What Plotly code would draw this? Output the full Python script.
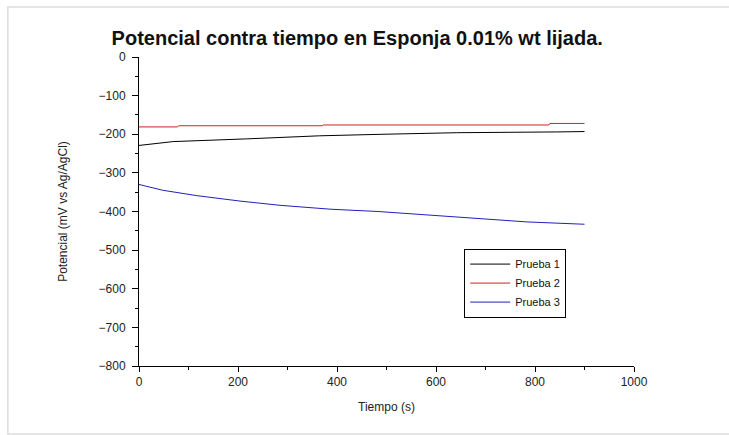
import plotly.graph_objects as go

t1 = [0, 69, 217, 365, 493, 642, 844, 900]
p1 = [-229, -219, -212, -204, -200, -196, -194, -193]

t2 = [0, 78, 80, 370, 372, 828, 830, 900]
p2 = [-181, -181, -178, -178, -176, -176, -172, -172]

t3 = [0, 48, 117, 204, 285, 386, 483, 568, 695, 784, 900]
p3 = [-330, -345, -359, -373, -384, -394, -400, -407, -419, -427, -433]

names = ["Prueba 1", "Prueba 2", "Prueba 3"]
colors = ["#000000", "#d42020", "#2020c0"]

fig = go.Figure()
for t, p, n, c in zip([t1, t2, t3], [p1, p2, p3], names, colors):
    fig.add_trace(go.Scatter(x=t, y=p, mode="lines", name=n,
                             line=dict(color=c, width=1)))

font = "Liberation Sans, Arial, sans-serif"
fig.update_layout(
    width=729, height=435,
    margin=dict(l=139, r=95, t=57, b=69),
    paper_bgcolor="white", plot_bgcolor="white",
    font=dict(family=font, size=12, color="#222"),
    title=dict(text="<b>Potencial contra tiempo en Esponja 0.01% wt lijada.</b>",
               x=0.49, xanchor="center", y=0.913, yanchor="middle",
               font=dict(size=20, color="#111")),
    showlegend=True,
    legend=dict(x=0.657, y=0.38, xanchor="left", yanchor="top",
                bordercolor="black", borderwidth=1, bgcolor="white",
                font=dict(size=11, color="#111"), tracegroupgap=0,
                itemwidth=40),
    shapes=[dict(type="rect", xref="paper", yref="paper",
                 x0=-0.265, x1=1.25, y0=-0.22, y1=1.162,
                 line=dict(color="#dddddd", width=1.5))],
)
fig.update_xaxes(range=[0, 1000], dtick=200, showgrid=False, zeroline=False,
                 showline=True, linecolor="black", linewidth=1,
                 ticks="outside", ticklen=5, tickcolor="black",
                 minor=dict(ticks="outside", dtick=100, ticklen=3, tickcolor="black"),
                 title=dict(text="Tiempo (s)", standoff=14, font=dict(size=12)))
fig.update_yaxes(range=[-800, 0], dtick=100, showgrid=False, zeroline=False,
                 showline=True, linecolor="black", linewidth=1,
                 ticks="outside", ticklen=6, tickcolor="black",
                 ticklabelstandoff=4,
                 minor=dict(ticks="outside", dtick=50, ticklen=3, tickcolor="black"),
                 title=dict(text="Potencial (mV vs Ag/AgCl)", standoff=28, font=dict(size=12)))

fig.write_html("out.html")
